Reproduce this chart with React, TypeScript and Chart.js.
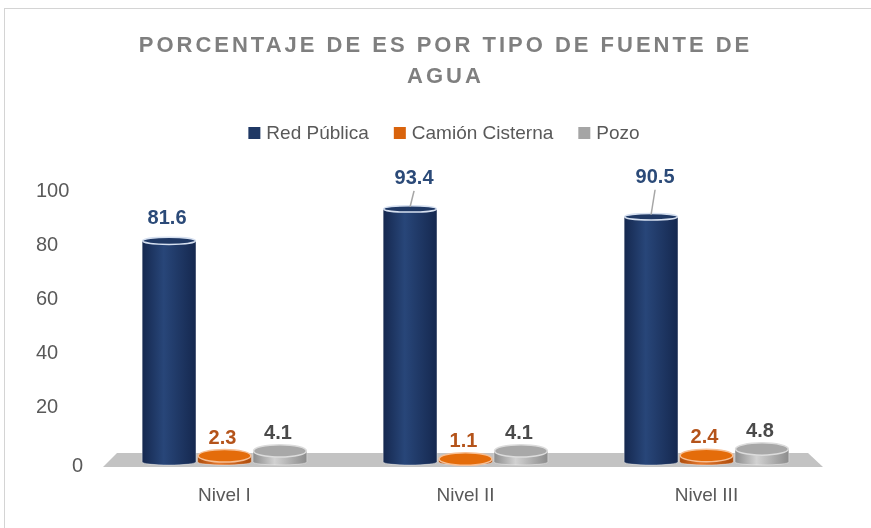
import React, { useEffect, useRef } from 'react';
import { Chart, registerables } from 'chart.js';

Chart.register(...registerables);

// ---- data ----
const categories = ['Nivel I', 'Nivel II', 'Nivel III'];
const seriesNames = ['Red Pública', 'Camión Cisterna', 'Pozo'];
const redPublica = [81.6, 93.4, 90.5];
const camionCisterna = [2.3, 1.1, 2.4];
const pozo = [4.1, 4.1, 4.8];
const yTickValues = [0, 20, 40, 60, 80, 100];
const titleLines = ['PORCENTAJE DE ES POR TIPO DE FUENTE DE', 'AGUA'];

// ---- style ----
const FONT = '"Liberation Sans", Arial, sans-serif';
const TEXT = '#595959';
const palettes = [
  { dark: '#15284f', mid: '#284679', cap: '#1f3864', rim: '#d6e0f0', legend: '#1f3864', label: '#2b4a78' },
  { dark: '#ad4c0c', mid: '#e57a30', cap: '#e46c0a', rim: '#f6bf95', legend: '#d9630c', label: '#b4531a' },
  { dark: '#8c8c8c', mid: '#d2d2d2', cap: '#a8a8a8', rim: '#dcdcdc', legend: '#a5a5a5', label: '#4a4a4a' },
];
// distance of label above the bar top where Excel used a leader line
const leaderLabels: Record<string, number> = { '0:1': 30, '0:2': 39 };

function drawCylinder(ctx: CanvasRenderingContext2D, x: number, top: number, base: number, w: number, ryTop: number, ryBase: number, p: any) {
  const rx = w / 2;
  const g = ctx.createLinearGradient(x - rx, 0, x + rx, 0);
  g.addColorStop(0, p.dark);
  g.addColorStop(0.4, p.mid);
  g.addColorStop(1, p.dark);
  ctx.beginPath();
  ctx.moveTo(x - rx, top);
  ctx.lineTo(x - rx, base);
  ctx.ellipse(x, base, rx, ryBase, 0, Math.PI, 0, true);
  ctx.lineTo(x + rx, top);
  ctx.closePath();
  ctx.fillStyle = g;
  ctx.fill();
  ctx.lineWidth = 1;
  ctx.strokeStyle = 'rgba(255,255,255,0.35)';
  ctx.stroke();
  ctx.beginPath();
  ctx.ellipse(x, top, rx - 0.5, ryTop, 0, 0, Math.PI * 2);
  ctx.fillStyle = p.cap;
  ctx.fill();
  ctx.lineWidth = 1.5;
  ctx.strokeStyle = p.rim;
  ctx.stroke();
}

function capRadius(el: any, chartArea: any) {
  const depth = (el.y - chartArea.top) / (chartArea.bottom - chartArea.top);
  return 3 + 3.3 * depth;
}

const cylinderPlugin = {
  id: 'cylinders',
  beforeDatasetDraw() {
    return false; // bars are drawn as cylinders below
  },
  beforeDatasetsDraw(chart: any) {
    const { ctx, chartArea } = chart;
    const y = chart.scales.y;
    const zero = y.getPixelForValue(0);
    ctx.save();
    ctx.beginPath();
    ctx.moveTo(chartArea.left - 1, zero + 5);
    ctx.lineTo(chartArea.left + 13, zero - 9);
    ctx.lineTo(chartArea.right - 19, zero - 9);
    ctx.lineTo(chartArea.right - 4, zero + 5);
    ctx.closePath();
    ctx.fillStyle = '#c3c3c3';
    ctx.fill();
    ctx.restore();
  },
  afterDatasetsDraw(chart: any) {
    const { ctx, chartArea } = chart;
    ctx.save();
    chart.data.datasets.forEach((ds: any, di: number) => {
      const meta = chart.getDatasetMeta(di);
      meta.data.forEach((el: any) => {
        drawCylinder(ctx, el.x, el.y, el.base, el.width, capRadius(el, chartArea), 3, palettes[di]);
      });
    });
    // labels
    ctx.font = `bold 20px ${FONT}`;
    ctx.textAlign = 'center';
    ctx.textBaseline = 'middle';
    chart.data.datasets.forEach((ds: any, di: number) => {
      const meta = chart.getDatasetMeta(di);
      meta.data.forEach((el: any, i: number) => {
        const key = `${di}:${i}`;
        const lift = leaderLabels[key];
        const ry = capRadius(el, chartArea);
        const ly = el.y - (lift ?? 30 - 2 * ry);
        const lx = el.x + (lift ? 4 : -2);
        if (lift) {
          ctx.beginPath();
          ctx.moveTo(el.x, el.y - 2);
          ctx.lineTo(lx, ly + 12);
          ctx.lineWidth = 1.5;
          ctx.strokeStyle = '#a6a6a6';
          ctx.stroke();
        }
        ctx.fillStyle = palettes[di].label;
        ctx.fillText(String(ds.data[i]), lx, ly);
      });
    });
    ctx.restore();
  },
  afterDraw(chart: any) {
    const { ctx } = chart;
    const cx = 444;
    ctx.save();
    // title
    ctx.fillStyle = '#7f7f7f';
    ctx.font = `bold 22px ${FONT}`;
    ctx.textAlign = 'center';
    ctx.textBaseline = 'middle';
    try { (ctx as any).letterSpacing = '3px'; } catch (e) {}
    titleLines.forEach((t, i) => ctx.fillText(t, cx + 1.5, 46 + i * 31));
    try { (ctx as any).letterSpacing = '0px'; } catch (e) {}
    // legend
    ctx.font = `19px ${FONT}`;
    ctx.textAlign = 'left';
    const box = 12, gap = 6, sep = 25;
    const widths = chart.data.datasets.map((d: any) => ctx.measureText(d.label).width);
    const total = widths.reduce((a: number, b: number) => a + b + box + gap, 0) + sep * (widths.length - 1);
    let x = cx - total / 2;
    const ly = 133;
    chart.data.datasets.forEach((d: any, i: number) => {
      ctx.fillStyle = palettes[i].legend;
      ctx.fillRect(x, ly - box / 2, box, box);
      x += box + gap;
      ctx.fillStyle = TEXT;
      ctx.fillText(d.label, x, ly + 1);
      x += widths[i] + sep;
    });
    // y tick labels
    const ys = chart.scales.y;
    ctx.font = `20px ${FONT}`;
    ctx.fillStyle = TEXT;
    yTickValues.forEach((v) => {
      const py = ys.getPixelForValue(v);
      if (v === 0) ctx.fillText(String(v), 72, py + 4);
      else ctx.fillText(String(v), 36, py);
    });
    ctx.restore();
  },
};

export default function App() {
  const ref = useRef<HTMLCanvasElement>(null);
  useEffect(() => {
    if (!ref.current) return;
    const seriesValues = [redPublica, camionCisterna, pozo];
    const chart = new Chart(ref.current, {
      type: 'bar',
      data: {
        labels: categories,
        datasets: seriesNames.map((name, i) => ({
          label: name,
          data: seriesValues[i],
          backgroundColor: palettes[i].legend,
          barPercentage: 0.97,
          categoryPercentage: 0.69,
        })),
      },
      options: {
        responsive: false,
        animation: false,
        layout: { padding: { top: 191, left: 0, right: 44, bottom: 21 } },
        plugins: {
          legend: { display: false },
          title: { display: false },
          tooltip: { enabled: false },
        },
        scales: {
          x: {
            grid: { display: false, drawTicks: false },
            border: { display: false },
            ticks: { color: TEXT, font: { family: FONT, size: 19 }, padding: 22 },
            afterFit: (s: any) => { s.height = 45; },
          },
          y: {
            min: 0,
            max: 100,
            grid: { display: false, drawTicks: false },
            border: { display: false },
            ticks: { display: false, stepSize: 20 },
            afterFit: (s: any) => { s.width = 104; },
          },
        },
      },
      plugins: [cylinderPlugin],
    });
    return () => chart.destroy();
  }, []);
  return (
    <div style={{ position: 'fixed', left: 0, top: 0, width: 871, height: 528, background: '#fff', overflow: 'hidden' }}>
      <div style={{ position: 'absolute', left: 4, top: 8, width: 900, height: 540, border: '1px solid #d4d4d4' }} />
      <canvas ref={ref} width={871} height={528} style={{ position: 'absolute', left: 0, top: 0 }} />
    </div>
  );
}
